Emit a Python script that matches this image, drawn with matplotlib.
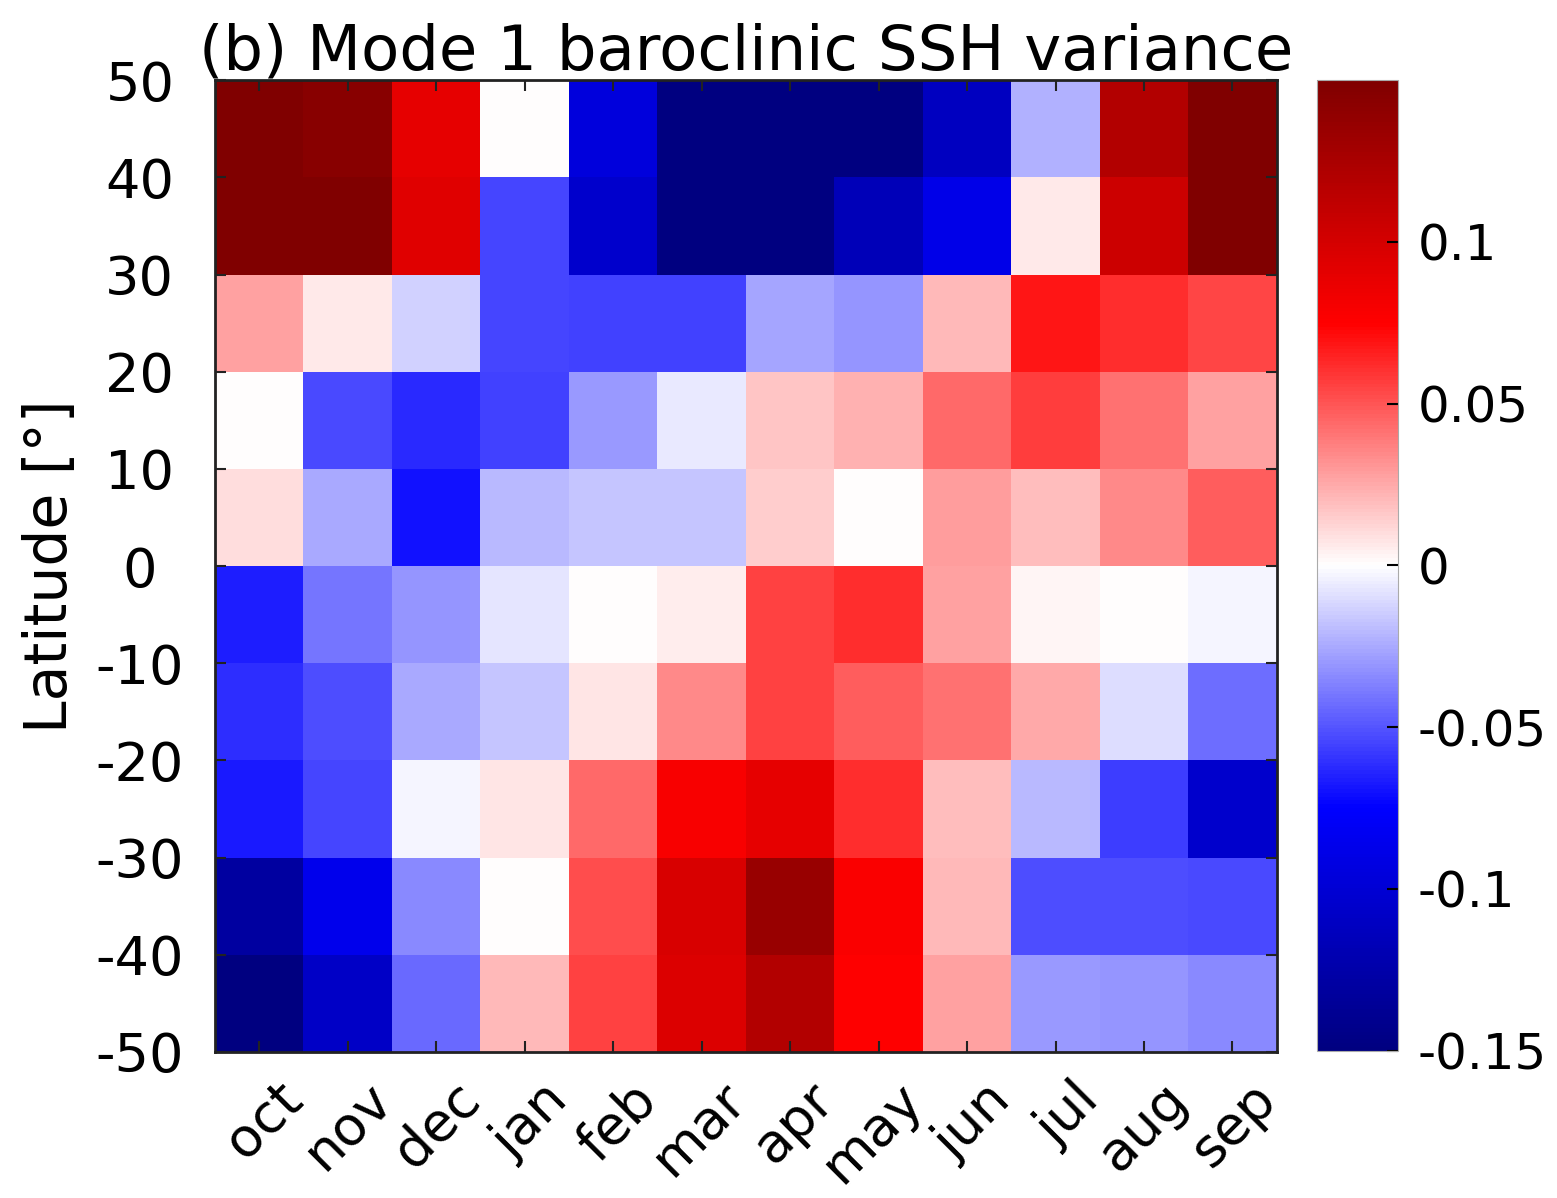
import numpy as np
import matplotlib
matplotlib.use("Agg")
import matplotlib.pyplot as plt
import matplotlib.transforms as mtransforms
from matplotlib.colors import LinearSegmentedColormap

months = ['oct', 'nov', 'dec', 'jan', 'feb', 'mar', 'apr', 'may', 'jun', 'jul', 'aug', 'sep']
lat_edges = [-50, -40, -30, -20, -10, 0, 10, 20, 30, 40, 50]

# one row per latitude band, from south (-50..-40) to north (40..50)
band_m50 = [-0.150, -0.108, -0.044, 0.021, 0.056, 0.095, 0.120, 0.075, 0.028, -0.030, -0.031, -0.035]
band_m40 = [-0.131, -0.086, -0.035, 0.000, 0.052, 0.098, 0.135, 0.078, 0.020, -0.052, -0.052, -0.053]
band_m30 = [-0.067, -0.055, -0.003, 0.008, 0.044, 0.079, 0.090, 0.062, 0.019, -0.020, -0.057, -0.105]
band_m20 = [-0.062, -0.052, -0.025, -0.017, 0.008, 0.035, 0.056, 0.047, 0.042, 0.025, -0.010, -0.043]
band_m10 = [-0.066, -0.041, -0.031, -0.008, 0.000, 0.005, 0.056, 0.061, 0.027, 0.003, 0.000, -0.003]
band_0 = [0.010, -0.025, -0.070, -0.021, -0.017, -0.017, 0.015, 0.000, 0.029, 0.019, 0.034, 0.047]
band_10 = [0.000, -0.053, -0.063, -0.056, -0.030, -0.006, 0.017, 0.023, 0.044, 0.057, 0.042, 0.028]
band_20 = [0.028, 0.007, -0.013, -0.054, -0.056, -0.056, -0.026, -0.031, 0.021, 0.068, 0.061, 0.054]
band_30 = [0.150, 0.150, 0.093, -0.054, -0.105, -0.150, -0.150, -0.117, -0.088, 0.007, 0.105, 0.150]
band_40 = [0.150, 0.145, 0.090, 0.000, -0.095, -0.150, -0.150, -0.150, -0.112, -0.023, 0.120, 0.150]

cbar_ticks = [-0.15, -0.1, -0.05, 0, 0.05, 0.1]
cbar_labels = ['-0.15', '-0.1', '-0.05', '0', '0.05', '0.1']

Z = np.array([band_m50, band_m40, band_m30, band_m20, band_m10,
              band_0, band_10, band_20, band_30, band_40])

cmap = LinearSegmentedColormap.from_list(
    'bwr2', [(0, 0, 0.5), (0, 0, 1), (1, 1, 1), (1, 0, 0), (0.5, 0, 0)], N=256)

plt.rcParams['font.family'] = 'DejaVu Sans'
fig = plt.figure(figsize=(15.57, 11.98), dpi=100)
ax = fig.add_axes([0.138, 0.122, 0.682, 0.811])
cax = fig.add_axes([0.846, 0.123, 0.052, 0.810])

x_edges = np.arange(len(months) + 1)
mesh = ax.pcolormesh(x_edges, lat_edges, Z, cmap=cmap, vmin=-0.15, vmax=0.15)

ax.set_xlim(0, 12)
ax.set_ylim(-50, 50)
ax.set_xticks(np.arange(len(months)) + 0.5)
ax.set_xticklabels(months, rotation=45, ha='right', va='top',
                   rotation_mode='anchor', fontsize=39)
ax.set_yticks(lat_edges)
ax.set_yticklabels([str(v) for v in lat_edges], ha='center', fontsize=39)
ax.tick_params(direction='in', length=8, width=1.5, top=True, right=True,
               color='#222222')
ax.tick_params(axis='y', pad=54)
ax.tick_params(axis='x', pad=15)
shift = mtransforms.ScaledTranslation(0.17, 0, fig.dpi_scale_trans)
for lab in ax.get_xticklabels():
    lab.set_transform(lab.get_transform() + shift)
for s in ax.spines.values():
    s.set_linewidth(2)
    s.set_color('#222222')
ax.set_ylabel('Latitude [°]', fontsize=42)
ax.yaxis.set_label_coords(-0.128, 0.5)
ax.set_title('(b) Mode 1 baroclinic SSH variance', fontsize=45, pad=8)

cb = fig.colorbar(mesh, cax=cax)
cb.set_ticks(cbar_ticks)
cb.set_ticklabels(cbar_labels)
cb.ax.tick_params(direction='in', length=8, width=1.5, labelsize=36, pad=14)
cb.outline.set_linewidth(0.8)
cb.outline.set_edgecolor('#aaaaaa')

fig.savefig('out.png', dpi=100)
